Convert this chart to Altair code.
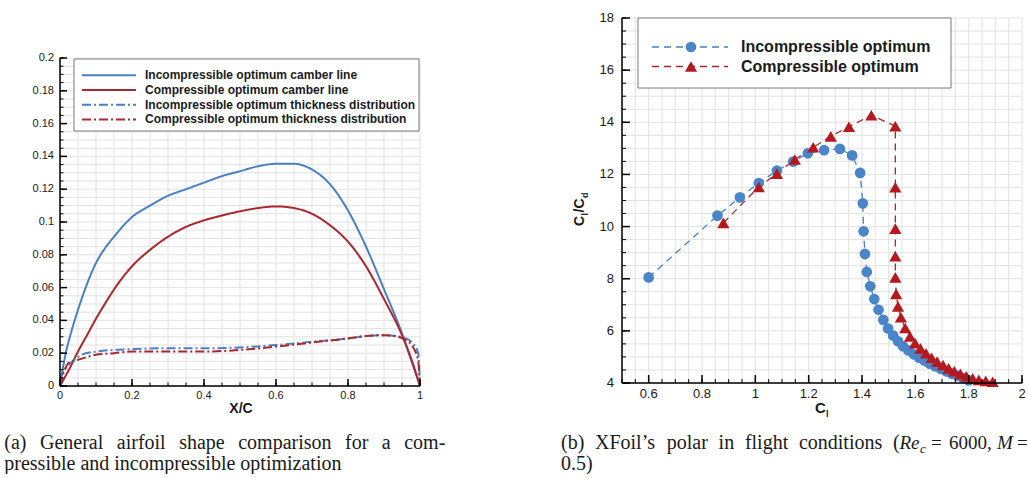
import altair as alt
import pandas as pd

SANS = "Liberation Sans"
SERIF = "Liberation Serif"

# ---------------- left chart data (airfoil shapes) ----------------
SERIES_L = [
    "Incompressible optimum camber line",
    "Compressible optimum camber line",
    "Incompressible optimum thickness distribution",
    "Compressible optimum thickness distribution",
]
INC_CAMBER_X = [0, 0.005, 0.015, 0.03, 0.045, 0.06, 0.08, 0.1, 0.125, 0.15, 0.2, 0.25, 0.3, 0.35, 0.4,
                0.45, 0.5, 0.55, 0.6, 0.65, 0.7, 0.75, 0.8, 0.85, 0.9, 0.95, 0.975, 1.0]
INC_CAMBER_Y = [0, 0.007, 0.019, 0.032, 0.043, 0.053, 0.065, 0.075, 0.084, 0.091, 0.103, 0.110, 0.116,
                0.120, 0.124, 0.128, 0.131, 0.134, 0.1355, 0.1355, 0.132, 0.123, 0.107, 0.085, 0.059,
                0.032, 0.016, 0.0]
COM_CAMBER_X = [0, 0.025, 0.05, 0.075, 0.1, 0.13, 0.16, 0.2, 0.25, 0.3, 0.35, 0.4, 0.45, 0.5, 0.55, 0.6,
                0.65, 0.7, 0.75, 0.8, 0.85, 0.9, 0.95, 0.975, 1.0]
COM_CAMBER_Y = [0, 0.010, 0.021, 0.031, 0.041, 0.052, 0.062, 0.073, 0.083, 0.091, 0.097, 0.101, 0.104,
                0.1065, 0.1085, 0.1095, 0.1085, 0.105, 0.098, 0.088, 0.073, 0.053, 0.031, 0.017, 0.0]
INC_THICK_X = [0, 0.01, 0.02, 0.04, 0.06, 0.1, 0.15, 0.2, 0.3, 0.4, 0.5, 0.6, 0.7, 0.8, 0.85, 0.9, 0.93,
               0.96, 0.98, 0.995, 1.0]
INC_THICK_Y = [0.004, 0.009, 0.012, 0.016, 0.019, 0.021, 0.022, 0.0225, 0.023, 0.023, 0.0235, 0.025,
               0.027, 0.029, 0.0305, 0.031, 0.0305, 0.029, 0.026, 0.020, 0.0]
COM_THICK_X = [0, 0.01, 0.02, 0.03, 0.05, 0.08, 0.1, 0.15, 0.2, 0.3, 0.4, 0.5, 0.6, 0.7, 0.8, 0.85, 0.9,
               0.93, 0.96, 0.98, 0.995, 1.0]
COM_THICK_Y = [0, 0.008, 0.013, 0.015, 0.016, 0.018, 0.019, 0.020, 0.021, 0.021, 0.021, 0.022, 0.024,
               0.0265, 0.029, 0.0305, 0.031, 0.0305, 0.028, 0.024, 0.015, 0.0]

# ---------------- right chart data (XFoil polar) ----------------
SERIES_R = ["Incompressible optimum", "Compressible optimum"]
INC_CL = [0.6, 0.858, 0.942, 1.013, 1.081, 1.142, 1.197, 1.258, 1.317, 1.363, 1.393, 1.403, 1.406,
          1.411, 1.418, 1.431, 1.446, 1.462, 1.480, 1.498, 1.517, 1.535, 1.554, 1.574, 1.594, 1.614,
          1.634, 1.654, 1.674, 1.696, 1.716, 1.737, 1.758, 1.778, 1.800]
INC_LD = [8.05, 10.42, 11.12, 11.67, 12.15, 12.49, 12.81, 12.93, 12.98, 12.73, 12.06, 10.89, 9.82,
          8.95, 8.26, 7.71, 7.22, 6.81, 6.42, 6.09, 5.82, 5.60, 5.41, 5.25, 5.10, 4.97, 4.86, 4.74,
          4.64, 4.54, 4.45, 4.36, 4.28, 4.19, 4.10]
COM_CL = [0.880, 1.013, 1.081, 1.148, 1.217, 1.283, 1.351, 1.435, 1.525, 1.525, 1.525, 1.525, 1.525,
          1.528, 1.535, 1.546, 1.562, 1.580, 1.599, 1.619, 1.640, 1.661, 1.682, 1.704, 1.725, 1.746,
          1.769, 1.791, 1.815, 1.838, 1.864, 1.890]
COM_LD = [10.14, 11.52, 12.03, 12.57, 13.04, 13.46, 13.83, 14.27, 13.85, 11.51, 9.92, 8.86, 8.05,
          7.42, 6.94, 6.52, 6.11, 5.79, 5.53, 5.33, 5.14, 4.97, 4.82, 4.69, 4.56, 4.45, 4.35, 4.26,
          4.18, 4.12, 4.08, 4.05]

# ---------------- ticks ----------------
LX_MAJOR = [0, 0.2, 0.4, 0.6, 0.8, 1]
LX_GRID = [round(i * 0.05, 3) for i in range(21)]
LY_MAJOR = [0, 0.02, 0.04, 0.06, 0.08, 0.1, 0.12, 0.14, 0.16, 0.18, 0.2]
LY_GRID = [round(i * 0.005, 4) for i in range(41)]
RX_MAJOR = [0.6, 0.8, 1, 1.2, 1.4, 1.6, 1.8, 2]
RX_GRID = [round(0.5 + i * 0.05, 3) for i in range(31)]
RY_MAJOR = [4, 6, 8, 10, 12, 14, 16, 18]
RY_GRID = [round(4 + i * 0.5, 2) for i in range(29)]

# ---------------- captions (words of justified lines) ----------------
CAP_A_1 = ["(a)", "General", "airfoil", "shape", "comparison", "for", "a", "com-"]
CAP_A_1_POS = [-55.7, -20, 56.8, 119.2, 178.2, 285, 321.8, 344.2]
CAP_A_2 = "pressible and incompressible optimization"
CAP_B_1 = ["(b)", "XFoil\u2019s", "polar", "in", "flight", "conditions", "("]
CAP_B_1_POS = [-61, -27, 44.8, 96.6, 122.9, 176.9, 270.9]
CAP_B_2 = "0.5)"

# ---------------- styles ----------------
COL_L = ["#4a80c2", "#a8282d", "#4a80c2", "#a8282d"]
DASH_L = [[1, 0], [1, 0], [9, 3, 2, 3], [9, 3, 2, 3]]
LINE_R = ["#b8cde8", "#dbb0b0"]
PT_R = ["#4a85c9", "#b3191e"]
PT_SIZE = [115, 150]
GRID = "#e2e2e2"
TXT = "#1a1a1a"

LW, LH, LTOP = 360, 368, 40
RW, RH = 400, 365
CAP_Y1, CAP_Y2 = 431, 452


def txt(text, x, y, **kw):
    base = dict(font=SANS, color=TXT, align="left", baseline="alphabetic")
    base.update(kw)
    return alt.Chart(pd.DataFrame({"t": [text]})).mark_text(**base).encode(
        x=alt.value(x), y=alt.value(y), text="t:N")


def vrules(vals, scale, y0, y1, color, width):
    return alt.Chart(pd.DataFrame({"v": vals})).mark_rule(color=color, strokeWidth=width).encode(
        x=alt.X("v:Q", scale=scale, axis=None), y=alt.value(y0), y2=alt.value(y1))


def hrules(vals, scale, x0, x1, color, width):
    return alt.Chart(pd.DataFrame({"v": vals})).mark_rule(color=color, strokeWidth=width).encode(
        y=alt.Y("v:Q", scale=scale, axis=None), x=alt.value(x0), x2=alt.value(x1))


def xlabels(vals, scale, ypos, size):
    return alt.Chart(pd.DataFrame({"v": vals})).transform_calculate(
        lab="format(datum.v, '~g')").mark_text(
        font=SANS, fontSize=size, color=TXT, align="center", baseline="alphabetic").encode(
        x=alt.X("v:Q", scale=scale, axis=None), y=alt.value(ypos), text="lab:N")


def ylabels(vals, scale, xpos, size):
    return alt.Chart(pd.DataFrame({"v": vals})).transform_calculate(
        lab="format(datum.v, '~g')").mark_text(
        font=SANS, fontSize=size, color=TXT, align="right", baseline="middle").encode(
        y=alt.Y("v:Q", scale=scale, axis=None), x=alt.value(xpos), text="lab:N")


# ================= LEFT PANEL =================
lx_scale = alt.Scale(domain=[0, 1], nice=False, zero=False)
ly_scale = alt.Scale(domain=[0, 0.2], range=[LH, LTOP], nice=False, zero=False)
stroke_l = alt.Scale(domain=SERIES_L, range=COL_L)
dash_l = alt.Scale(domain=SERIES_L, range=DASH_L)

frames = []
for s, xs, ys in zip(SERIES_L, [INC_CAMBER_X, COM_CAMBER_X, INC_THICK_X, COM_THICK_X],
                     [INC_CAMBER_Y, COM_CAMBER_Y, INC_THICK_Y, COM_THICK_Y]):
    frames.append(pd.DataFrame({"x": xs, "y": ys, "series": s, "k": range(len(xs))}))
df_l = pd.concat(frames, ignore_index=True)

l_lines = alt.Chart(df_l).mark_line(strokeWidth=2, interpolate="monotone").encode(
    x=alt.X("x:Q", scale=lx_scale, axis=None),
    y=alt.Y("y:Q", scale=ly_scale, axis=None),
    stroke=alt.Stroke("series:N", scale=stroke_l, legend=None),
    strokeDash=alt.StrokeDash("series:N", scale=dash_l, legend=None),
    detail="series:N",
    order="k:Q",
)

l_box = alt.Chart(pd.DataFrame({"a": [0]})).mark_rect(fill="white", stroke="#7a7a7a", strokeWidth=1).encode(
    x=alt.value(14), x2=alt.value(359), y=alt.value(LTOP + 1), y2=alt.value(LTOP + 73))
leg_l = alt.Chart(pd.DataFrame({"series": SERIES_L, "k": range(4)})).transform_calculate(
    py=f"{LTOP + 17.3} + 14.7*datum.k")
l_leg_lines = leg_l.mark_rule(strokeWidth=2).encode(
    x=alt.value(22), x2=alt.value(76), y=alt.Y("py:Q", scale=None, axis=None),
    stroke=alt.Stroke("series:N", scale=stroke_l, legend=None),
    strokeDash=alt.StrokeDash("series:N", scale=dash_l, legend=None))
l_leg_text = leg_l.mark_text(font=SANS, fontWeight="bold", fontSize=12, color=TXT, align="left",
                             baseline="middle").encode(
    x=alt.value(85), y=alt.Y("py:Q", scale=None, axis=None), text="series:N")

l_domain_y = alt.Chart(pd.DataFrame({"a": [0]})).mark_rule(color="black", strokeWidth=1.5).encode(
    x=alt.value(0), y=alt.value(LTOP), y2=alt.value(LH))
l_domain_x = alt.Chart(pd.DataFrame({"a": [0]})).mark_rule(color="black", strokeWidth=1.5).encode(
    x=alt.value(0), x2=alt.value(LW), y=alt.value(LH))

cap_a = [txt(w, p, CAP_Y1, font=SERIF, fontSize=20) for w, p in zip(CAP_A_1, CAP_A_1_POS)]
cap_a.append(txt(CAP_A_2, -55.7, CAP_Y2, font=SERIF, fontSize=20))

left = alt.layer(
    vrules(LX_GRID, lx_scale, LTOP, LH, GRID, 1),
    hrules(LY_GRID, ly_scale, 0, LW, GRID, 1),
    l_lines,
    vrules(LX_GRID, lx_scale, LH, LH - 3.5, "black", 1),
    vrules(LX_MAJOR, lx_scale, LH, LH - 7, "black", 1.5),
    hrules(LY_GRID, ly_scale, 0, 3.5, "black", 1),
    hrules(LY_MAJOR, ly_scale, 0, 7, "black", 1.5),
    l_domain_y, l_domain_x,
    xlabels(LX_MAJOR, lx_scale, LH + 13, 11),
    ylabels(LY_MAJOR, ly_scale, -6, 11),
    l_box, l_leg_lines, l_leg_text,
    txt("X/C", 181, 395, fontSize=14, fontWeight="bold", align="center"),
    *cap_a,
).properties(width=LW, height=LH)

# ================= RIGHT PANEL =================
rx_scale = alt.Scale(domain=[0.5, 2], nice=False, zero=False)
ry_scale = alt.Scale(domain=[4, 18], nice=False, zero=False)
stroke_r = alt.Scale(domain=SERIES_R, range=LINE_R)
fill_r = alt.Scale(domain=SERIES_R, range=PT_R)
shape_r = alt.Scale(domain=SERIES_R, range=["circle", "triangle-up"])
size_r = alt.Scale(domain=SERIES_R, range=PT_SIZE)

df_r = pd.concat([
    pd.DataFrame({"cl": INC_CL, "ld": INC_LD, "series": SERIES_R[0], "k": range(len(INC_CL))}),
    pd.DataFrame({"cl": COM_CL, "ld": COM_LD, "series": SERIES_R[1], "k": range(len(COM_CL))}),
], ignore_index=True)

r_lines = alt.Chart(df_r).mark_line(strokeWidth=1.3, strokeDash=[7, 5]).encode(
    x=alt.X("cl:Q", scale=rx_scale, axis=None),
    y=alt.Y("ld:Q", scale=ry_scale, axis=None),
    stroke=alt.Stroke("series:N", scale=stroke_r, legend=None),
    detail="series:N",
    order="k:Q",
)
r_points = alt.Chart(df_r).mark_point(filled=True, opacity=1, strokeWidth=0).encode(
    x=alt.X("cl:Q", scale=rx_scale, axis=None),
    y=alt.Y("ld:Q", scale=ry_scale, axis=None),
    fill=alt.Fill("series:N", scale=fill_r, legend=None),
    shape=alt.Shape("series:N", scale=shape_r, legend=None),
    size=alt.Size("series:N", scale=size_r, legend=None),
)

r_box = alt.Chart(pd.DataFrame({"a": [0]})).mark_rect(fill="white", stroke="#7a7a7a", strokeWidth=1).encode(
    x=alt.value(16), x2=alt.value(329), y=alt.value(0), y2=alt.value(70))
leg_r = alt.Chart(pd.DataFrame({"series": SERIES_R, "k": range(2)})).transform_calculate(
    py="29 + 19.5*datum.k")
r_leg_lines = leg_r.mark_rule(strokeWidth=1.3, strokeDash=[7, 5]).encode(
    x=alt.value(30), x2=alt.value(106), y=alt.Y("py:Q", scale=None, axis=None),
    stroke=alt.Stroke("series:N", scale=stroke_r, legend=None))
r_leg_pts = leg_r.mark_point(filled=True, opacity=1, strokeWidth=0).encode(
    x=alt.value(69), y=alt.Y("py:Q", scale=None, axis=None),
    fill=alt.Fill("series:N", scale=fill_r, legend=None),
    shape=alt.Shape("series:N", scale=shape_r, legend=None),
    size=alt.Size("series:N", scale=size_r, legend=None))
r_leg_text = leg_r.mark_text(font=SANS, fontWeight="bold", fontSize=16, color=TXT, align="left",
                             baseline="middle").encode(
    x=alt.value(119), y=alt.Y("py:Q", scale=None, axis=None), text="series:N")

r_domain_y = alt.Chart(pd.DataFrame({"a": [0]})).mark_rule(color="black", strokeWidth=1.5).encode(
    x=alt.value(0), y=alt.value(0), y2=alt.value(RH))
r_domain_x = alt.Chart(pd.DataFrame({"a": [0]})).mark_rule(color="black", strokeWidth=1.5).encode(
    x=alt.value(0), x2=alt.value(RW), y=alt.value(RH))

# axis titles with subscripts
yt = dict(angle=270, fontWeight="bold", baseline="alphabetic", align="left")
r_ytitle = [
    txt("C", -38, 208, fontSize=14, **yt),
    txt("l", -38, 208, fontSize=9, dx=10.5, dy=4, **yt),
    txt("/C", -38, 208, fontSize=14, dx=13.5, **yt),
    txt("d", -38, 208, fontSize=9, dx=28, dy=4, **yt),
]
r_xtitle = [
    txt("C", 193, 395, fontSize=15, fontWeight="bold"),
    txt("l", 193, 395, fontSize=9, fontWeight="bold", dx=11, dy=4),
]
cap_b = [txt(w, p, CAP_Y1, font=SERIF, fontSize=20) for w, p in zip(CAP_B_1, CAP_B_1_POS)]
cap_b += [
    txt("Re", 277.5, CAP_Y1, font=SERIF, fontSize=19, fontStyle="italic"),
    txt("c", 298, CAP_Y1 + 4, font=SERIF, fontSize=13, fontStyle="italic"),
    txt("=", 309, CAP_Y1, font=SERIF, fontSize=19),
    txt("6000,", 327, CAP_Y1, font=SERIF, fontSize=19),
    txt("M", 375, CAP_Y1, font=SERIF, fontSize=19, fontStyle="italic"),
    txt("=", 395, CAP_Y1, font=SERIF, fontSize=19),
    txt(CAP_B_2, -61, CAP_Y2, font=SERIF, fontSize=20),
]

right = alt.layer(
    vrules(RX_GRID, rx_scale, 0, RH, GRID, 1),
    hrules(RY_GRID, ry_scale, 0, RW, GRID, 1),
    r_lines, r_points,
    vrules(RX_GRID, rx_scale, RH, RH - 4, "black", 1),
    vrules(RX_MAJOR, rx_scale, RH, RH - 8, "black", 1.5),
    hrules(RY_GRID, ry_scale, 0, 4, "black", 1),
    hrules(RY_MAJOR, ry_scale, 0, 8, "black", 1.5),
    r_domain_y, r_domain_x,
    xlabels(RX_MAJOR, rx_scale, RH + 15, 13),
    ylabels(RY_MAJOR, ry_scale, -8, 13),
    r_box, r_leg_lines, r_leg_pts, r_leg_text,
    *r_ytitle, *r_xtitle, *cap_b,
).properties(width=RW, height=RH)

chart = alt.hconcat(left, right, spacing=202, bounds="flush",
                    padding={"left": 4, "top": 12, "right": 0, "bottom": 0},
                    background="white").configure_view(stroke=None)

chart.save("out.html", embed_options={"renderer": "svg", "actions": False})
